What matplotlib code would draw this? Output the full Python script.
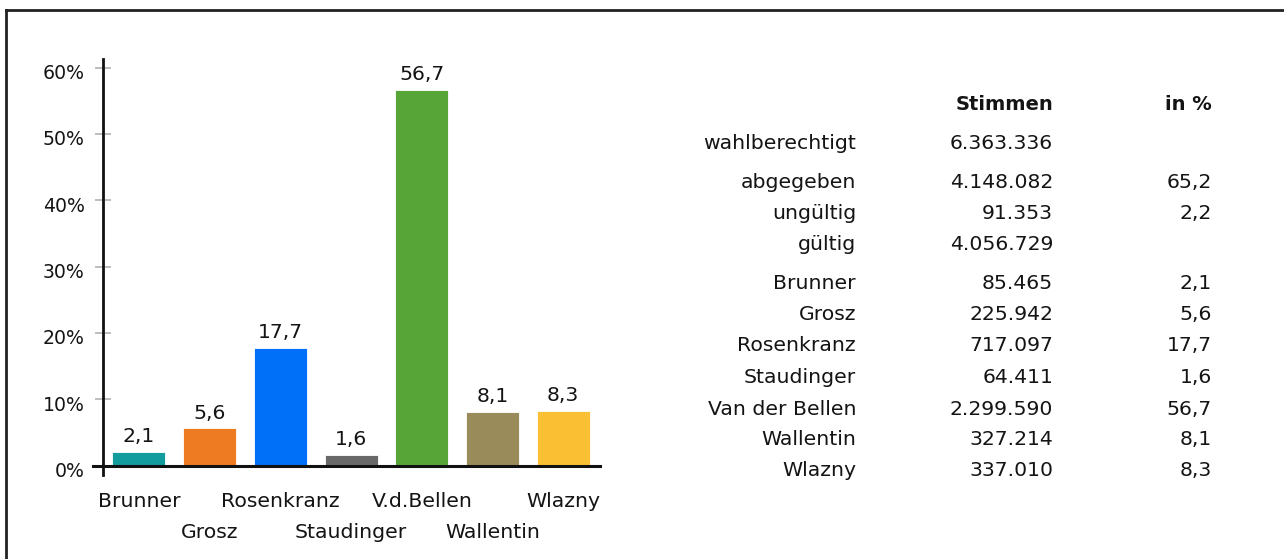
import matplotlib.pyplot as plt
import matplotlib.transforms as mtransforms
from matplotlib.lines import Line2D

# bar chart data
names = ["Brunner", "Grosz", "Rosenkranz", "Staudinger", "V.d.Bellen", "Wallentin", "Wlazny"]
shares = [2.1, 5.6, 17.7, 1.6, 56.7, 8.1, 8.3]
share_labels = ["2,1", "5,6", "17,7", "1,6", "56,7", "8,1", "8,3"]
colors = ["#139c9e", "#ee7b22", "#0070f8", "#686868", "#58a537", "#9a8b5a", "#fbbf33"]
yticks = [0, 10, 20, 30, 40, 50, 60]

# table data
row_names = ["wahlberechtigt", "abgegeben", "ungültig", "gültig",
             "Brunner", "Grosz", "Rosenkranz", "Staudinger",
             "Van der Bellen", "Wallentin", "Wlazny"]
votes = ["6.363.336", "4.148.082", "91.353", "4.056.729",
         "85.465", "225.942", "717.097", "64.411", "2.299.590", "327.214", "337.010"]
percents = ["", "65,2", "2,2", "", "2,1", "5,6", "17,7", "1,6", "56,7", "8,1", "8,3"]
row_base = [149, 188, 219, 250, 289, 320, 351, 383, 415, 445, 476]  # baselines, px

plt.rcParams['font.family'] = ['DejaVu Sans']
txt = "#141414"
fs = 14.7

W, H = 1284, 559
fig = plt.figure(figsize=(W / 100, H / 100), dpi=100)

# frame around the figure
fig.add_artist(Line2D([6 / W, 6 / W], [0, 1 - 9.5 / H], color="#222222", lw=2))
fig.add_artist(Line2D([6 / W, 1], [1 - 9.5 / H, 1 - 9.5 / H], color="#222222", lw=2))

ax = fig.add_axes([93 / W, 1 - 475 / H, 507 / W, 416 / H])
x = list(range(len(names)))
ax.bar(x, shares, width=0.75, color=colors, edgecolor="white", linewidth=0.6)
ax.set_xlim(-0.65, 6.52)
ax.set_ylim(-1.41, 61.3)

for s in ["top", "right"]:
    ax.spines[s].set_visible(False)
ax.spines["left"].set_position(("data", -0.51))
ax.spines["left"].set_linewidth(2)
ax.spines["left"].set_color("#111111")
ax.spines["bottom"].set_position(("data", 0))
ax.spines["bottom"].set_linewidth(2.2)
ax.spines["bottom"].set_color("#111111")

ax.set_yticks(yticks)
ax.set_yticklabels([f"{t}%" for t in yticks], fontsize=13.6, color=txt)
ax.tick_params(axis="y", direction="inout", length=12, color="#bdbdbd", width=1.4, pad=7)
shift = mtransforms.ScaledTranslation(0, -4 / 100, fig.dpi_scale_trans)
for lab in ax.get_yticklabels():
    lab.set_transform(lab.get_transform() + shift)
ax.set_xticks([])

for i, (v, lab) in enumerate(zip(shares, share_labels)):
    ax.text(i, v + 1.5, lab, ha="center", va="baseline", fontsize=fs, color=txt)

for i, n in enumerate(names):
    yy = -0.0764 if i % 2 == 0 else -0.1525
    ax.text(i, yy, n, ha="center", va="baseline", fontsize=fs, color=txt,
            transform=ax.get_xaxis_transform())

# table on the right
def fy(py):
    return 1 - py / H

fig.text(1053 / W, fy(110), "Stimmen", ha="right", va="baseline", fontsize=14,
         fontweight="bold", color=txt)
fig.text(1212 / W, fy(110), "in %", ha="right", va="baseline", fontsize=14,
         fontweight="bold", color=txt)
for name, v, p, py in zip(row_names, votes, percents, row_base):
    fig.text(856 / W, fy(py), name, ha="right", va="baseline", fontsize=fs, color=txt)
    fig.text(1053 / W, fy(py), v, ha="right", va="baseline", fontsize=fs, color=txt)
    if p:
        fig.text(1212 / W, fy(py), p, ha="right", va="baseline", fontsize=fs, color=txt)

fig.savefig("out.png", dpi=100, facecolor="white")
